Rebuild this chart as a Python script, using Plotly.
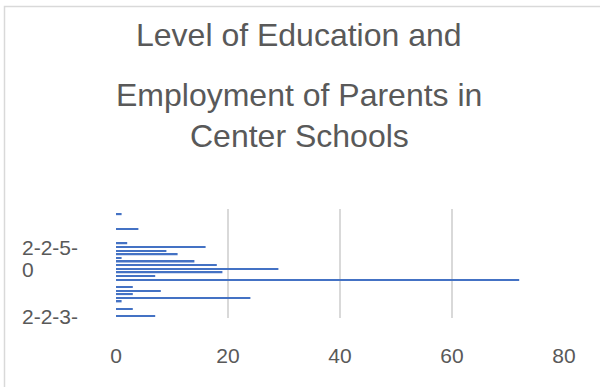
import plotly.graph_objects as go

# Rows of the bar chart, listed from top to bottom
rows = list(range(30))
counts = [0, 1, 0, 0, 0, 4, 0, 0, 0, 2,
          16, 9, 11, 1, 14, 18, 29, 19, 7, 72,
          0, 3, 8, 3, 24, 1, 0, 3, 0, 7]

# Category labels shown on the vertical axis (row index -> text)
label_rows = [13, 29]
label_texts = ["2-2-5-<br>0", "2-2-3-"]

x_ticks = [0, 20, 40, 60, 80]

title_lines = ["Level of Education and", "Employment of Parents in", "Center Schools"]

W, H = 600, 387
L, R, T, B = 116, 36, 209, 69
PW, PH = W - L - R, H - T - B


def px_x(px):
    return (px - L) / PW


def px_y(py):
    return (H - B - py) / PH


TEXT = "#595959"
GRID = "#D9D9D9"
FONT = "Liberation Sans, Arial, sans-serif"
LABEL_LINE = 22  # line spacing of the wrapped category labels

fig = go.Figure()
fig.add_trace(go.Bar(
    x=counts, y=rows, orientation="h",
    width=0.4,
    marker=dict(color="#4472C4", line=dict(width=0)),
    hoverinfo="x+y",
))

annotations = []
for text, cy in zip(title_lines, [35, 95, 136]):
    annotations.append(dict(
        text=text, xref="paper", yref="paper", x=px_x(299), y=px_y(cy),
        xanchor="center", yanchor="middle", showarrow=False,
        font=dict(family=FONT, size=32, color=TEXT),
    ))

# Wrapped category labels: each line placed separately, left aligned
for r, t in zip(label_rows, label_texts):
    lines = t.split("<br>")
    n = len(lines)
    for i, line in enumerate(lines):
        shift = ((n - 1) / 2 - i) * LABEL_LINE
        annotations.append(dict(
            text=line, xref="paper", yref="y", x=px_x(21), y=r, yshift=shift,
            xanchor="left", yanchor="middle", align="left", showarrow=False,
            borderpad=0,
            font=dict(family=FONT, size=21, color=TEXT),
        ))

fig.update_layout(
    width=W, height=H,
    margin=dict(l=L, r=R, t=T, b=B, pad=0),
    paper_bgcolor="white", plot_bgcolor="white",
    showlegend=False,
    annotations=annotations,
    shapes=[dict(
        type="rect", xref="paper", yref="paper",
        x0=px_x(4.5), x1=px_x(605), y0=px_y(392), y1=px_y(6.5),
        line=dict(color=GRID, width=1.5), fillcolor="rgba(0,0,0,0)", layer="below",
    )],
    xaxis=dict(
        range=[0, 80], tickvals=x_ticks, ticktext=[str(v) for v in x_ticks],
        showgrid=True, gridcolor=GRID, gridwidth=1.5,
        zeroline=False, showline=False,
        ticks="outside", ticklen=19, tickcolor="rgba(0,0,0,0)",
        tickfont=dict(family=FONT, size=21, color=TEXT),
        fixedrange=True,
    ),
    yaxis=dict(
        range=[29.5, -0.5], showgrid=False, zeroline=False, showline=False,
        showticklabels=False, fixedrange=True,
    ),
)

fig.write_html("out.html")
